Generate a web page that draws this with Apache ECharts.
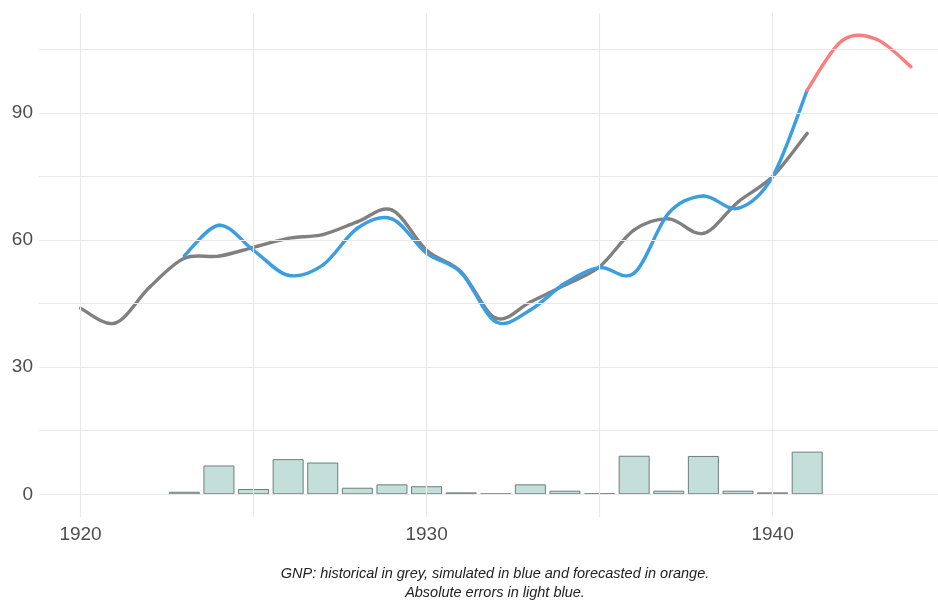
<!DOCTYPE html>
<html>
<head>
<meta charset="utf-8">
<script src="https://cdn.jsdelivr.net/npm/echarts@6/dist/echarts.min.js"></script>
<style>
html,body{margin:0;padding:0;background:#fff;}
#c{width:938px;height:605px;}
</style>
</head>
<body>
<div id="c"></div>
<script>
// Data
var histYears = [1920,1921,1922,1923,1924,1925,1926,1927,1928,1929,1930,1931,1932,1933,1934,1935,1936,1937,1938,1939,1940,1941];
var histGNP   = [43.9,40.4,48.9,55.7,56.2,58.3,60.4,61.3,64.3,67.1,57.6,52.5,41.6,45.4,49.4,53.7,62.4,65.0,61.6,69.0,75.0,85.2];
var simYears  = [1923,1924,1925,1926,1927,1928,1929,1930,1931,1932,1933,1934,1935,1936,1937,1938,1939,1940,1941];
var simGNP    = [56.3,63.5,57.6,51.7,54.1,62.8,65.0,56.9,52.3,40.7,43.5,49.8,53.5,52.2,66.4,70.4,67.5,75.0,95.4];
var fcYears   = [1941,1942,1943,1944];
var fcGNP     = [95.4,107.0,107.4,100.9];
var errYears  = [1923,1924,1925,1926,1927,1928,1929,1930,1931,1932,1933,1934,1935,1936,1937,1938,1939,1940,1941];
var absErr    = [0.6,6.8,1.25,8.3,7.5,1.55,2.35,1.9,0.45,0.15,2.35,0.85,0.2,9.1,0.85,9.05,0.85,0.45,10.07];
var xTickLabels = [1920,1930,1940];
var yTickLabels = [0,30,60,90];
var xGridValues = [1920,1925,1930,1935,1940];
var yGridValues = [0,15,30,45,60,75,90,105];
var captionLines = ["GNP: historical in grey, simulated in blue and forecasted in orange.","Absolute errors in light blue."];

function pairs(xs, ys){ return xs.map(function(x,i){ return [x, ys[i]]; }); }

// Catmull-Rom spline drawn segment by segment through the axis scales (api.coord)
function splineSeries(xs, ys, color){
  var d = pairs(xs, ys);
  return {
    type:'custom', data:d, silent:true, clip:false,
    renderItem:function(params, api){
      var i = params.dataIndex, n = d.length;
      if (i >= n - 1) return null;
      var p0 = api.coord(d[Math.max(i-1,0)]);
      var p1 = api.coord(d[i]);
      var p2 = api.coord(d[i+1]);
      var p3 = api.coord(d[Math.min(i+2,n-1)]);
      return {
        type:'bezierCurve',
        shape:{
          x1:p1[0], y1:p1[1], x2:p2[0], y2:p2[1],
          cpx1:p1[0] + (p2[0]-p0[0])/6, cpy1:p1[1] + (p2[1]-p0[1])/6,
          cpx2:p2[0] - (p3[0]-p1[0])/6, cpy2:p2[1] - (p3[1]-p1[1])/6
        },
        style:{stroke:color, lineWidth:3.4, fill:null, lineCap:'round'}
      };
    }
  };
}

var font = "'Liberation Sans',Arial,sans-serif";
var chart = echarts.init(document.getElementById('c'), null, {renderer:'canvas'});
var gridLineStyle = {color:'#e9e9e9', width:1.2, type:'solid'};

chart.setOption({
  animation:false,
  backgroundColor:'#ffffff',
  grid:{left:39, right:0, top:13, bottom:88, containLabel:false},
  xAxis:{
    type:'value', min:1918.80, max:1944.78,
    axisLine:{show:false}, axisTick:{show:false}, splitLine:{show:false},
    axisLabel:{customValues:xTickLabels, color:'#4d4d4d', fontSize:19, fontFamily:font, margin:8,
      formatter:function(v){return String(v);}}
  },
  yAxis:{
    type:'value', min:-5.36, max:113.6,
    axisLine:{show:false}, axisTick:{show:false}, splitLine:{show:false},
    axisLabel:{customValues:yTickLabels, color:'#4d4d4d', fontSize:19, fontFamily:font, margin:6,
      verticalAlign:'middle', lineHeight:22, padding:[3,0,0,0],
      formatter:function(v){return String(v);}}
  },
  series:[
    {
      type:'line', data:[], silent:true,
      markLine:{silent:true, symbol:['none','none'], label:{show:false}, lineStyle:gridLineStyle,
        data: xGridValues.map(function(v){return {xAxis:v};}).concat(yGridValues.map(function(v){return {yAxis:v};}))}
    },
    {
      type:'bar', data:pairs(errYears, absErr), barWidth:31, silent:true,
      itemStyle:{color:'#c4dfd9', borderColor:'#6b7f7a', borderWidth:1}
    },
    splineSeries(histYears, histGNP, '#808080'),
    splineSeries(simYears, simGNP, '#3a9ee4'),
    splineSeries(fcYears, fcGNP, '#fb7d7d')
  ],
  graphic:[
    {type:'text', x:495, y:566, style:{text:captionLines[0], fill:'#222', fontStyle:'italic',
      fontSize:14.5, fontFamily:font, textAlign:'center'}},
    {type:'text', x:495, y:585, style:{text:captionLines[1], fill:'#222', fontStyle:'italic',
      fontSize:14.5, fontFamily:font, textAlign:'center'}}
  ]
});
</script>
</body>
</html>
